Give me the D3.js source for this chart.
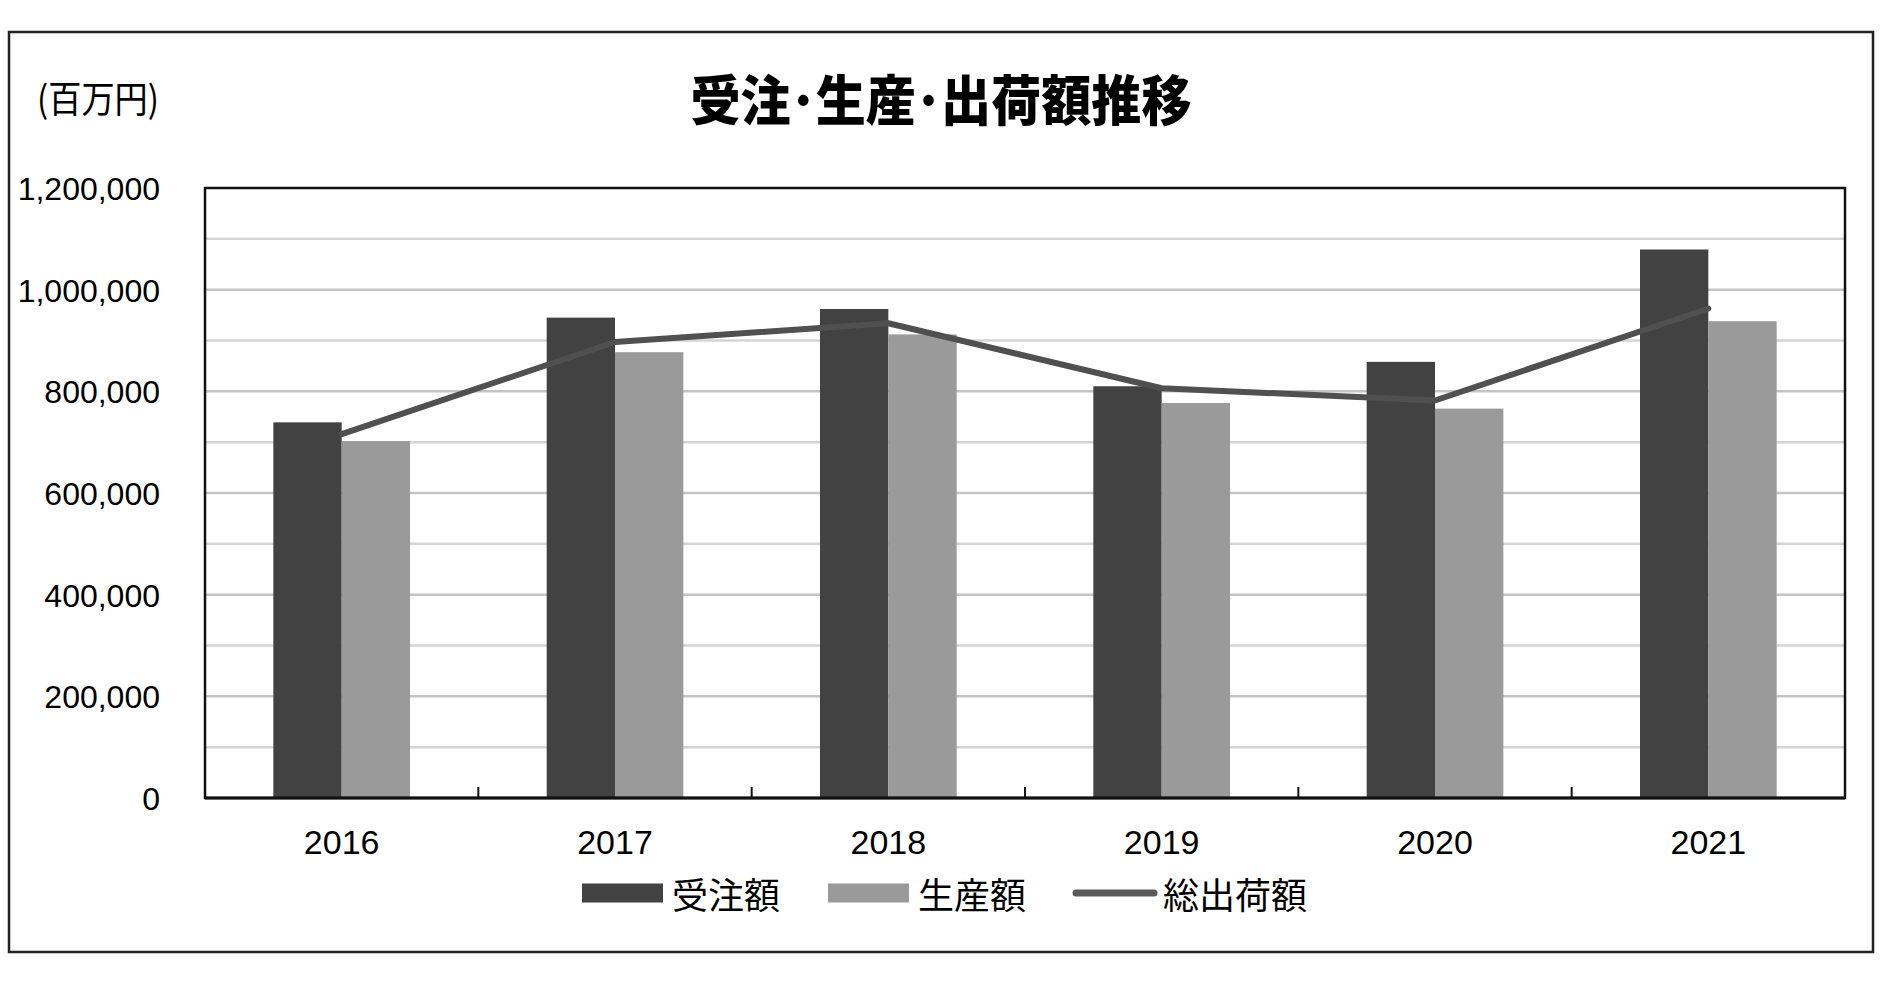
<!DOCTYPE html>
<html>
<head>
	<meta charset="utf-8">
	<title>受注・生産・出荷額推移</title>
	<script src="https://d3js.org/d3.v7.min.js" charset="utf-8"></script>
	<style>
	body {
		margin: 0;
		background-color: #ffffff;
	}
	text {
		font-family: "Liberation Sans", "Noto Sans CJK JP", sans-serif;
		fill: #000;
	}
	.jp {
		font-family: "Noto Sans CJK JP", sans-serif;
	}
	</style>
</head>
<body>
	<script>

		// chart values (百万円)
		var years = ["2016", "2017", "2018", "2019", "2020", "2021"];
		var orders = [739000, 945000, 962000, 810000, 858000, 1079000];      // 受注額
		var production = [702000, 877000, 912000, 777000, 766000, 938000];   // 生産額
		var shipments = [716000, 897000, 934000, 806000, 782000, 963000];    // 総出荷額
		var seriesNames = ["受注額", "生産額", "総出荷額"];

		var width = 1897;
		var height = 999;

		// note: "top" is taken by window.top, so plot edges get their own names
		var plotLeft = 205, plotRight = 1845, plotTop = 188, plotBottom = 798;

		var svg = d3.select("body")
		.append("svg")
		.attr("width", width)
		.attr("height", height);

		// outer frame
		svg.append("rect")
		.attr("x", 9)
		.attr("y", 32)
		.attr("width", 1864)
		.attr("height", 920)
		.attr("fill", "none")
		.attr("stroke", "#222")
		.attr("stroke-width", 2.5);

		var x = d3.scaleBand()
		.domain(years)
		.range([plotLeft, plotRight])
		.paddingInner(0.5)
		.paddingOuter(0.25);

		var xSub = d3.scaleBand()
		.domain([0, 1])
		.range([0, x.bandwidth()]);

		var y = d3.scaleLinear()
		.domain([0, 1200000])
		.range([plotBottom, plotTop]);

		// gridlines every 100,000
		svg.append("g")
		.selectAll("line")
		.data(y.ticks(12).filter(function(d){ return d > 0 && d < 1200000; }))
		.enter()
		.append("line")
		.attr("x1", plotLeft)
		.attr("x2", plotRight)
		.attr("y1", function(d){ return y(d); })
		.attr("y2", function(d){ return y(d); })
		.attr("stroke", function(d){ return d % 200000 == 0 ? "#c4c4c4" : "#d4d4d4"; })
		.attr("stroke-width", 2.5);

		// bars
		var bars = svg.append("g");
		bars.selectAll(".orders")
		.data(orders)
		.enter()
		.append("rect")
		.attr("class", "orders")
		.attr("x", function(d, i){ return x(years[i]) + xSub(0); })
		.attr("y", function(d){ return y(d); })
		.attr("width", xSub.bandwidth())
		.attr("height", function(d){ return plotBottom - y(d); })
		.attr("fill", "#424242");

		bars.selectAll(".production")
		.data(production)
		.enter()
		.append("rect")
		.attr("class", "production")
		.attr("x", function(d, i){ return x(years[i]) + xSub(1); })
		.attr("y", function(d){ return y(d); })
		.attr("width", xSub.bandwidth())
		.attr("height", function(d){ return plotBottom - y(d); })
		.attr("fill", "#9a9a9a");

		// shipment line
		var line = d3.line()
		.x(function(d, i){ return x(years[i]) + x.bandwidth() / 2; })
		.y(function(d){ return y(d); });

		svg.append("path")
		.datum(shipments)
		.attr("d", line)
		.attr("fill", "none")
		.attr("stroke", "#505050")
		.attr("stroke-width", 6)
		.attr("stroke-linejoin", "round")
		.attr("stroke-linecap", "round");

		// plot frame
		svg.append("rect")
		.attr("x", plotLeft)
		.attr("y", plotTop)
		.attr("width", plotRight - plotLeft)
		.attr("height", plotBottom - plotTop)
		.attr("fill", "none")
		.attr("stroke", "#111")
		.attr("stroke-width", 2.5);

		svg.append("line")
		.attr("x1", plotLeft)
		.attr("x2", plotRight)
		.attr("y1", plotBottom)
		.attr("y2", plotBottom)
		.attr("stroke", "#111")
		.attr("stroke-width", 3);

		// small ticks between categories
		var gap = x.step() - x.bandwidth();
		svg.append("g")
		.selectAll("line")
		.data(years.slice(1))
		.enter()
		.append("line")
		.attr("x1", function(d){ return x(d) - gap / 2; })
		.attr("x2", function(d){ return x(d) - gap / 2; })
		.attr("y1", plotBottom)
		.attr("y2", plotBottom - 11)
		.attr("stroke", "#111")
		.attr("stroke-width", 2);

		// y axis labels
		var yAxis = svg.append("g")
		.attr("transform", "translate(" + plotLeft + ",0)")
		.call(d3.axisLeft(y).tickValues(y.ticks(6)).tickSize(0).tickPadding(45).tickFormat(d3.format(",")));
		yAxis.select(".domain").remove();
		yAxis.selectAll("text")
		.attr("dy", "0.36em")
		.style("font-size", "32px")
		.style("font-family", "'Liberation Sans', sans-serif")
		.attr("fill", "#000");

		// x axis labels
		var xAxis = svg.append("g")
		.attr("transform", "translate(0," + plotBottom + ")")
		.call(d3.axisBottom(x).tickSize(0));
		xAxis.select(".domain").remove();
		xAxis.selectAll("text")
		.attr("y", 56)
		.attr("dy", 0)
		.style("font-size", "34px")
		.style("font-family", "'Liberation Sans', sans-serif")
		.attr("fill", "#000");

		// title, with the narrow half-width dot
		svg.append("text")
		.attr("class", "jp")
		.attr("x", 941)
		.attr("y", 97)
		.attr("text-anchor", "middle")
		.attr("dominant-baseline", "central")
		.attr("textLength", 501)
		.attr("lengthAdjust", "spacingAndGlyphs")
		.style("font-size", "54px")
		.style("font-weight", "900")
		.text("受注･生産･出荷額推移");

		svg.append("text")
		.attr("class", "jp")
		.attr("x", 37)
		.attr("y", 97)
		.attr("dominant-baseline", "central")
		.attr("textLength", 122)
		.attr("lengthAdjust", "spacingAndGlyphs")
		.style("font-size", "37px")
		.text("(百万円)");

		// legend
		var legend = svg.append("g").attr("transform", "translate(0,893)");
		var legendX = [582, 828, 1073];

		legend.append("rect")
		.attr("x", legendX[0]).attr("y", -9.5)
		.attr("width", 81).attr("height", 19)
		.attr("fill", "#424242");

		legend.append("rect")
		.attr("x", legendX[1]).attr("y", -9.5)
		.attr("width", 81).attr("height", 19)
		.attr("fill", "#9a9a9a");

		legend.append("line")
		.attr("x1", legendX[2] + 3).attr("x2", legendX[2] + 81)
		.attr("y1", 0).attr("y2", 0)
		.attr("stroke", "#5a5a5a")
		.attr("stroke-width", 7)
		.attr("stroke-linecap", "round");

		legend.selectAll(".lab")
		.data(seriesNames)
		.enter()
		.append("text")
		.attr("class", "jp lab")
		.attr("x", function(d, i){ return legendX[i] + 90; })
		.attr("y", 0)
		.attr("dominant-baseline", "central")
		.style("font-size", "36px")
		.text(function(d){ return d; });

	</script>
</body>
</html>
